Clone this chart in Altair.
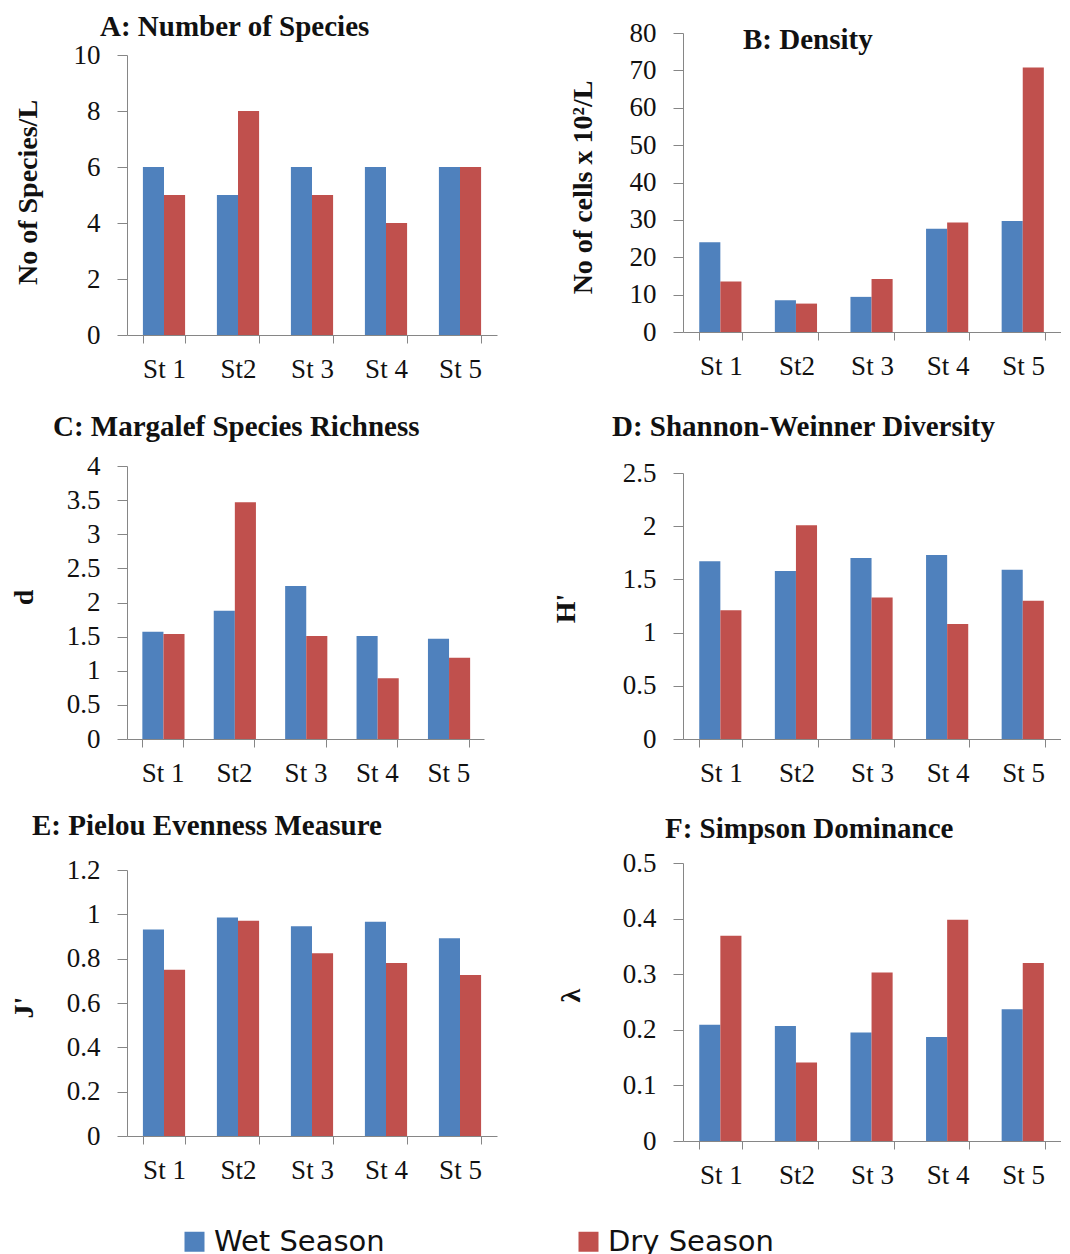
import altair as alt
import pandas as pd

stations = ["St 1", "St2", "St 3", "St 4", "St 5"]
seasons = ["Wet Season", "Dry  Season"]
colors = ["#4F81BD", "#C0504D"]

a_wet = [6, 5, 6, 6, 6]
a_dry = [5, 8, 5, 4, 6]
b_wet = [24.0, 8.5, 9.4, 27.6, 29.7]
b_dry = [13.5, 7.6, 14.2, 29.3, 70.8]
c_wet = [1.57, 1.88, 2.24, 1.51, 1.47]
c_dry = [1.54, 3.47, 1.51, 0.89, 1.19]
d_wet = [1.67, 1.58, 1.70, 1.73, 1.59]
d_dry = [1.21, 2.01, 1.33, 1.08, 1.30]
e_wet = [0.932, 0.986, 0.946, 0.967, 0.892]
e_dry = [0.750, 0.971, 0.825, 0.780, 0.726]
f_wet = [0.209, 0.207, 0.195, 0.187, 0.237]
f_dry = [0.369, 0.141, 0.303, 0.398, 0.320]

a_ticks = [0, 2, 4, 6, 8, 10]
b_ticks = [0, 10, 20, 30, 40, 50, 60, 70, 80]
c_ticks = [0, 0.5, 1, 1.5, 2, 2.5, 3, 3.5, 4]
d_ticks = [0, 0.5, 1, 1.5, 2, 2.5]
e_ticks = [0, 0.2, 0.4, 0.6, 0.8, 1, 1.2]
f_ticks = [0, 0.1, 0.2, 0.3, 0.4, 0.5]

SERIF = "Liberation Serif"
AXIS_GRAY = "#868686"

legend = alt.Legend(
    orient="none", legendX=53, legendY=1194, direction="horizontal", title=None,
    symbolType="square", symbolSize=400, symbolStrokeWidth=0,
    labelFont="DejaVu Sans", labelFontSize=29, labelColor="#111111",
    labelOffset=5, columnPadding=189, labelLimit=400, padding=0,
)


def panel(wet, dry, ticks, ytitle, title, width, height, yrange,
          t_offset, t_dx, ytx, yty):
    df = pd.DataFrame({
        "station": stations * 2,
        "season": [seasons[0]] * len(stations) + [seasons[1]] * len(stations),
        "value": list(wet) + list(dry),
    })
    return alt.Chart(df).mark_bar().encode(
        x=alt.X(
            "station:N", sort=stations,
            scale=alt.Scale(paddingInner=0.43, paddingOuter=0.215),
            axis=alt.Axis(
                title=None, labelAngle=0, tickBand="extent", tickSize=8,
                labelPadding=13, labelFont=SERIF, labelFontSize=27,
                labelColor="#111111", domainColor=AXIS_GRAY, tickColor=AXIS_GRAY,
                grid=False,
            ),
        ),
        xOffset=alt.XOffset(
            "season:N", sort=seasons,
            scale=alt.Scale(domain=seasons, paddingInner=0, paddingOuter=0),
        ),
        y=alt.Y(
            "value:Q",
            scale=alt.Scale(domain=[ticks[0], ticks[-1]], range=yrange, nice=False),
            axis=alt.Axis(
                values=ticks, format="~r", grid=False, tickSize=10, labelPadding=17,
                labelFont=SERIF, labelFontSize=27, labelColor="#111111",
                domainColor=AXIS_GRAY, tickColor=AXIS_GRAY,
                title=ytitle, titleFont=SERIF, titleFontSize=28, titleFontWeight="bold",
                titleColor="#111111", titleAngle=270, titleAlign="center",
                titleBaseline="middle", titleX=ytx, titleY=yty,
            ),
        ),
        color=alt.Color(
            "season:N", sort=seasons,
            scale=alt.Scale(domain=seasons, range=colors), legend=legend,
        ),
    ).properties(
        width=width, height=height,
        title=alt.TitleParams(
            text=title, anchor="start", frame="group", align="left",
            baseline="alphabetic", offset=t_offset, dx=t_dx,
            font=SERIF, fontSize=29, fontWeight="bold", color="#111111",
        ),
    )


pa = panel(a_wet, a_dry, a_ticks, "No of Species/L", "A: Number of Species",
           370, 302, [302, 22], -32, -27, -99, 159)
pb = panel(b_wet, b_dry, b_ticks, "No of cells x 10²/L", "B: Density",
           378, 299, [299, 0], -59, 60, -100, 154)
pc = panel(c_wet, c_dry, c_ticks, "d", "C: Margalef Species Richness",
           357, 280, [280, 7], -13, -74, -102.5, 138)
pd_ = panel(d_wet, d_dry, d_ticks, "H'", "D: Shannon-Weinner Diversity",
            378, 280, [280, 14], -6, -71, -116.5, 149)
pe = panel(e_wet, e_dry, e_ticks, "J'", "E: Pielou Evenness Measure",
           370, 273, [273, 7], -8, -95, -102.5, 144)
pf = panel(f_wet, f_dry, f_ticks, "λ", "F: Simpson Dominance",
           378, 278, [278, 0], -18, -18, -112, 132)

chart = alt.concat(
    pa, pb, pc, pd_, pe, pf,
    columns=2, spacing={"row": 124, "column": 186}, bounds="flush", align="each",
).properties(
    padding={"left": 2, "top": 5, "right": 0, "bottom": 0},
).configure_view(strokeWidth=0)

chart.save("out.html", embed_options={"renderer": "svg", "actions": False})
